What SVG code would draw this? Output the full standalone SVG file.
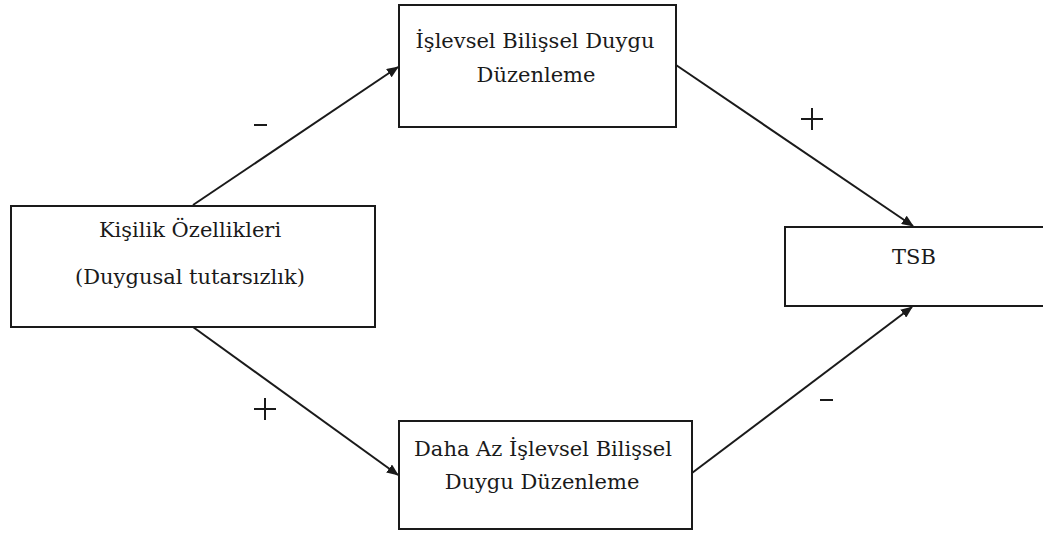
<svg xmlns="http://www.w3.org/2000/svg" width="1043" height="534" viewBox="0 0 1043 534">
<defs>
<style>
.box{fill:#fff;stroke:#1a1a1a;stroke-width:2}
.t{font-family:"DejaVu Serif","Liberation Serif",serif;font-size:21px;fill:#1a1a1a;text-anchor:middle}
.edge{stroke:#1a1a1a;stroke-width:2;fill:none;marker-end:url(#ah)}
</style>
<marker id="ah" markerWidth="12" markerHeight="10" refX="11" refY="5" orient="auto" markerUnits="userSpaceOnUse">
<path d="M0,0 L12,5 L0,10 Z" fill="#1a1a1a"/>
</marker>
</defs>
<rect width="1043" height="534" fill="#fff"/>
<g id="connectors">
<line class="edge" x1="193" y1="205" x2="398" y2="67"/>
<line class="edge" x1="676" y1="65" x2="913" y2="226"/>
<line class="edge" x1="193" y1="327" x2="398" y2="475"/>
<line class="edge" x1="692" y1="473" x2="912" y2="307"/>
<g id="labels">
<line x1="254" y1="125" x2="267" y2="125" stroke="#1a1a1a" stroke-width="2"/>
<path d="M801,119 H823 M812,108 V130" stroke="#1a1a1a" stroke-width="2"/>
<path d="M254,409 H276 M265,398 V420" stroke="#1a1a1a" stroke-width="2"/>
<line x1="820" y1="400" x2="833" y2="400" stroke="#1a1a1a" stroke-width="2"/>
</g>
</g>
<g id="node-top">
<rect class="box" x="399" y="5" width="277" height="122"/>
<text class="t" x="535" y="48">İşlevsel Bilişsel Duygu</text>
<text class="t" x="536" y="82">Düzenleme</text>
</g>
<g id="node-left">
<rect class="box" x="11" y="206" width="364" height="121"/>
<text class="t" x="190" y="237">Kişilik Özellikleri</text>
<text class="t" x="190" y="284">(Duygusal tutarsızlık)</text>
</g>
<g id="node-tsb">
<rect class="box" x="785" y="227" width="270" height="79"/>
<text class="t" x="914" y="264">TSB</text>
</g>
<g id="node-bottom">
<rect class="box" x="399" y="421" width="293" height="108"/>
<text class="t" x="543" y="456">Daha Az İşlevsel Bilişsel</text>
<text class="t" x="542" y="489">Duygu Düzenleme</text>
</g>
</svg>
